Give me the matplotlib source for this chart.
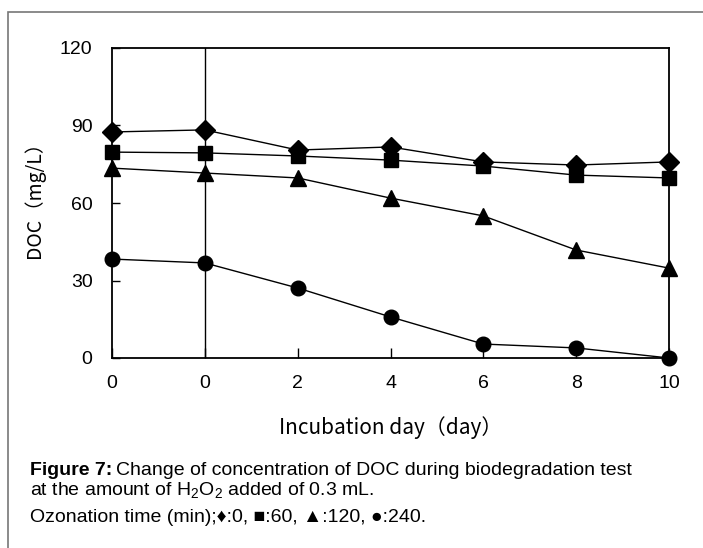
import matplotlib
matplotlib.use("Agg")
import matplotlib.pyplot as plt
from matplotlib.patches import Rectangle

# ---- data ----
day_labels = ["0", "0", "2", "4", "6", "8", "10"]
ozone_0 = [87.5, 88.3, 80.5, 81.7, 75.9, 74.7, 75.9]
ozone_60 = [79.7, 79.4, 78.2, 76.6, 74.3, 70.8, 69.7]
ozone_120 = [73.5, 71.6, 69.7, 61.9, 55.0, 41.8, 34.8]
ozone_240 = [38.3, 36.8, 27.1, 15.9, 5.4, 3.9, 0.0]
y_ticks = [0, 30, 60, 90, 120]

plt.rcParams['mathtext.fontset'] = 'custom'
plt.rcParams['mathtext.rm'] = 'Liberation Sans'
plt.rcParams['mathtext.it'] = 'Liberation Sans'

W, H = 703, 548
fig = plt.figure(figsize=(W / 100, H / 100), dpi=100)

# outer frame (open at right/bottom)
fig.patches.append(Rectangle((8 / W, -0.2), 2.0, (H - 12) / H + 0.2,
                             transform=fig.transFigure, fill=False,
                             edgecolor='#777777', linewidth=1.2))

L, R, T, B = 112, 669, 48, 358
ax = fig.add_axes([L / W, (H - B) / H, (R - L) / W, (B - T) / H])

x = list(range(len(day_labels)))
series = [(ozone_0, 'D', 10.5), (ozone_60, 's', 10), (ozone_120, '^', 11), (ozone_240, 'o', 10.5)]
for vals, mk, ms in series:
    ax.plot(x, vals, color='black', linewidth=1.0, marker=mk, markersize=ms,
            clip_on=False, zorder=5)

ax.axvline(1, color='black', linewidth=1.0, zorder=2)

ax.set_xlim(0, len(day_labels) - 1)
ax.set_ylim(0, 120)
ax.set_yticks(y_ticks)
ax.set_xticks(x)
ax.set_xticklabels(day_labels, family='Liberation Sans', fontsize=14)
ax.set_yticklabels([str(v) for v in y_ticks], family='Liberation Sans', fontsize=14)
ax.tick_params(axis='y', direction='in', length=6, width=1, pad=14)
ax.tick_params(axis='x', direction='in', length=7, width=1, pad=12)
for s in ax.spines.values():
    s.set_linewidth(1.3)
    s.set_color('black')

ax.set_xlabel('Incubation day（day）', family=['Noto Sans CJK JP', 'DejaVu Sans'],
              fontsize=15, labelpad=18)
ax.set_ylabel('DOC（mg/L）', family=['Noto Sans CJK JP', 'DejaVu Sans'],
              fontsize=14)
ax.yaxis.set_label_coords(-0.12, 0.526)

cap_fs = 14
t1 = fig.text(30 / W, 1 - 475 / H, 'Figure 7:', fontweight='bold',
              family='Liberation Sans', fontsize=cap_fs, va='baseline')
fig.canvas.draw()
bb = t1.get_window_extent()
fig.text(bb.x1 / W + 4 / W, 1 - 475 / H,
         'Change of concentration of DOC during biodegradation test',
         family='Liberation Sans', fontsize=cap_fs, va='baseline')
fig.text(30 / W, 1 - 495 / H, r'at the amount of H$_\mathregular{2}$O$_\mathregular{2}$ added of 0.3 mL.',
         family='Liberation Sans', fontsize=cap_fs, va='baseline')
fig.text(30 / W, 1 - 522 / H, 'Ozonation time (min);♦:0, ■:60, ▲:120, ●:240.',
         family=['Liberation Sans', 'DejaVu Sans'], fontsize=cap_fs, va='baseline')

fig.savefig('out.png', dpi=100)
